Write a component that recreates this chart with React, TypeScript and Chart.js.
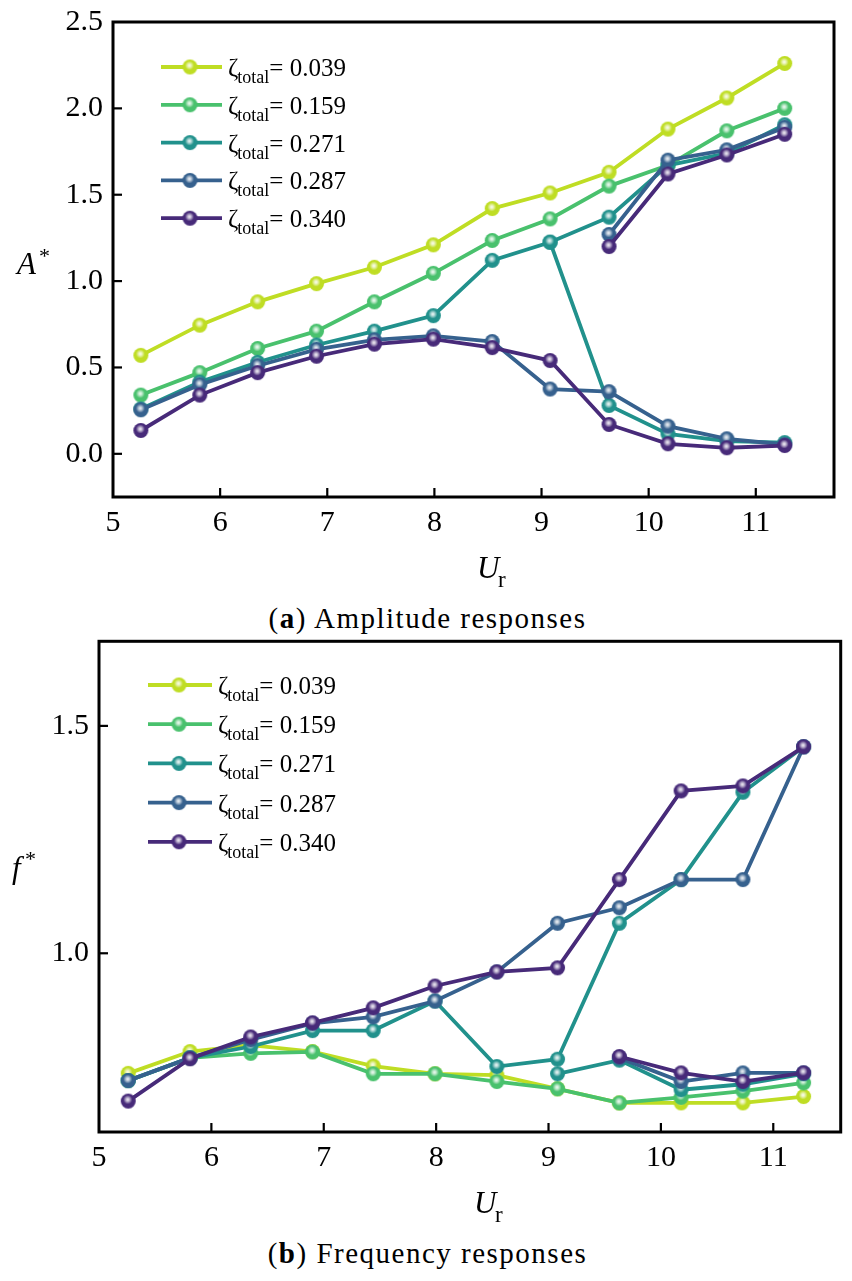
import { useEffect, useRef } from "react";
import { Chart, registerables } from "chart.js";

Chart.register(...registerables);

// reduced velocity (shared x values)
const ur = [5.26, 5.81, 6.35, 6.9, 7.44, 7.99, 8.54, 9.08, 9.63, 10.18, 10.73, 11.27];
const dampingLabels = ["0.039", "0.159", "0.271", "0.287", "0.340"];
const colors = ["#bfdd24", "#49c16d", "#21918c", "#36618e", "#472a79"];

// (a) amplitude responses A*
const amp039 = [0.57, 0.745, 0.88, 0.985, 1.08, 1.21, 1.42, 1.51, 1.63, 1.88, 2.06, 2.26];
const amp159 = [0.34, 0.47, 0.61, 0.71, 0.88, 1.045, 1.235, 1.36, 1.55, 1.67, 1.87, 2.0];
const amp271Up = [0.26, 0.415, 0.53, 0.63, 0.71, 0.8, 1.12, 1.225, 1.37, 1.67, 1.74, 1.905];
const amp271Down = [null, null, null, null, null, null, null, 1.225, 0.28, 0.115, 0.073, 0.065];
const amp287Down = [0.255, 0.4, 0.51, 0.605, 0.66, 0.683, 0.65, 0.375, 0.36, 0.16, 0.087, 0.054];
const amp287Up = [null, null, null, null, null, null, null, null, 1.27, 1.7, 1.76, 1.89];
const amp340Down = [0.135, 0.34, 0.47, 0.565, 0.635, 0.664, 0.615, 0.54, 0.17, 0.058, 0.035, 0.048];
const amp340Up = [null, null, null, null, null, null, null, null, 1.2, 1.62, 1.73, 1.85];

// (b) frequency responses f*
const freq039 = [0.736, 0.784, 0.798, 0.784, 0.752, 0.735, 0.732, 0.702, 0.671, 0.671, 0.671, 0.685];
const freq159 = [0.72, 0.77, 0.78, 0.783, 0.735, 0.735, 0.718, 0.702, 0.671, 0.683, 0.697, 0.715];
const freq271Up = [0.72, 0.77, 0.795, 0.83, 0.83, 0.895, 0.751, 0.767, 1.066, 1.162, 1.354, 1.454];
const freq271Down = [null, null, null, null, null, null, null, 0.735, 0.765, 0.7, 0.712, 0.735];
const freq287Up = [0.72, 0.77, 0.81, 0.846, 0.86, 0.895, 0.959, 1.066, 1.1, 1.162, 1.162, 1.454];
const freq287Down = [null, null, null, null, null, null, null, null, 0.77, 0.718, 0.737, 0.737];
const freq340Up = [0.675, 0.768, 0.816, 0.847, 0.88, 0.928, 0.959, 0.968, 1.162, 1.357, 1.368, 1.454];
const freq340Down = [null, null, null, null, null, null, null, null, 0.773, 0.737, 0.718, 0.737];

const ampSeries: [number, (number | null)[]][] = [
  [0, amp039], [1, amp159], [2, amp271Up], [2, amp271Down],
  [3, amp287Down], [3, amp287Up], [4, amp340Down], [4, amp340Up],
];
const freqSeries: [number, (number | null)[]][] = [
  [0, freq039], [1, freq159], [2, freq271Up], [2, freq271Down],
  [3, freq287Up], [3, freq287Down], [4, freq340Up], [4, freq340Down],
];

const SERIF = "'Liberation Serif', 'Times New Roman', serif";

function makeMarker(color: string, r = 7.5): HTMLCanvasElement {
  const size = Math.ceil(2 * r + 4);
  const c = document.createElement("canvas");
  c.width = size;
  c.height = size;
  const g = c.getContext("2d")!;
  const m = size / 2;
  g.beginPath();
  g.arc(m, m, r, 0, Math.PI * 2);
  g.fillStyle = color;
  g.fill();
  const grad = g.createRadialGradient(m - 0.5, m - 1.5, 0, m - 0.5, m - 1.5, r * 0.6);
  grad.addColorStop(0, "rgba(255,255,255,0.95)");
  grad.addColorStop(0.4, "rgba(255,255,255,0.65)");
  grad.addColorStop(1, "rgba(255,255,255,0)");
  g.fillStyle = grad;
  g.beginPath();
  g.arc(m, m, r, 0, Math.PI * 2);
  g.fill();
  return c;
}

interface Deco {
  yTitle: string;
  yX: number;
  yY: number;
  starX: number;
  starY: number;
  uX: number;
  uY: number;
  rX: number;
  rY: number;
  lx0: number;
  lx1: number;
  lxm: number;
  lxt: number;
  ly0: number;
  ldy: number;
}

function decoPlugin(d: Deco, markers: HTMLCanvasElement[]) {
  return {
    id: "deco",
    afterDraw(chart: Chart) {
      const { ctx, chartArea: a } = chart;
      const sx = chart.scales.x;
      const sy = chart.scales.y;
      ctx.save();
      ctx.strokeStyle = "#000";
      ctx.lineWidth = 2.2;
      // inward ticks
      sx.ticks.forEach((t) => {
        const px = sx.getPixelForValue(t.value);
        if (px - a.left < 3 || a.right - px < 3) return;
        ctx.beginPath();
        ctx.moveTo(px, a.bottom);
        ctx.lineTo(px, a.bottom - 9);
        ctx.stroke();
      });
      sy.ticks.forEach((t) => {
        const py = sy.getPixelForValue(t.value);
        if (py - a.top < 3 || a.bottom - py < 3) return;
        ctx.beginPath();
        ctx.moveTo(a.left, py);
        ctx.lineTo(a.left + 9, py);
        ctx.stroke();
      });
      ctx.lineWidth = 3;
      ctx.strokeRect(a.left, a.top, a.right - a.left, a.bottom - a.top);

      // legend
      dampingLabels.forEach((lab, i) => {
        const y = d.ly0 + i * d.ldy;
        ctx.strokeStyle = colors[i];
        ctx.lineWidth = 3.8;
        ctx.beginPath();
        ctx.moveTo(d.lx0, y);
        ctx.lineTo(d.lx1, y);
        ctx.stroke();
        const mk = markers[i];
        ctx.drawImage(mk, d.lxm - mk.width / 2, y - mk.height / 2);
        ctx.fillStyle = "#000";
        ctx.textBaseline = "alphabetic";
        ctx.textAlign = "left";
        ctx.font = `25px ${SERIF}`;
        ctx.fillText("ζ", d.lxt, y + 9);
        const w1 = ctx.measureText("ζ").width;
        ctx.font = `18px ${SERIF}`;
        ctx.fillText("total", d.lxt + w1 - 1, y + 16);
        const w2 = ctx.measureText("total").width;
        ctx.font = `25px ${SERIF}`;
        ctx.fillText("= " + lab, d.lxt + w1 + w2 - 1, y + 9);
      });

      // axis titles
      ctx.fillStyle = "#000";
      ctx.font = `italic 31px ${SERIF}`;
      ctx.fillText(d.yTitle, d.yX, d.yY);
      ctx.font = `22px ${SERIF}`;
      ctx.fillText("*", d.starX, d.starY);
      ctx.font = `italic 31px ${SERIF}`;
      ctx.fillText("U", d.uX, d.uY);
      ctx.font = `23px ${SERIF}`;
      ctx.fillText("r", d.rX, d.rY);
      ctx.restore();
    },
  };
}

interface PanelProps {
  series: [number, (number | null)[]][];
  xMax: number;
  yMin: number;
  yMax: number;
  yW: number;
  xH: number;
  padTop: number;
  padRight: number;
  deco: Deco;
}

function Panel({ series, xMax, yMin, yMax, yW, xH, padTop, padRight, deco }: PanelProps) {
  const ref = useRef<HTMLCanvasElement>(null);

  useEffect(() => {
    if (!ref.current) return;
    const markers = colors.map((c) => makeMarker(c));
    const chart = new Chart(ref.current, {
      type: "line",
      data: {
        datasets: series.map(([ci, vals]) => ({
          label: dampingLabels[ci],
          data: ur.map((x, i) => ({ x, y: vals[i] })),
          borderColor: colors[ci],
          backgroundColor: colors[ci],
          borderWidth: 3.8,
          pointStyle: markers[ci],
          pointRadius: 7.5,
          fill: false,
          tension: 0,
          spanGaps: false,
          order: 4 - ci,
        })),
      },
      options: {
        responsive: false,
        animation: false,
        layout: { padding: { top: padTop, right: padRight, left: 0, bottom: 0 } },
        plugins: {
          legend: { display: false },
          tooltip: { enabled: false },
        },
        scales: {
          x: {
            type: "linear",
            min: 5,
            max: xMax,
            grid: { display: false, drawTicks: false },
            border: { display: false },
            ticks: {
              stepSize: 1,
              includeBounds: false,
              color: "#000",
              padding: 8,
              font: { family: SERIF, size: 30 },
              maxRotation: 0,
            },
            afterFit: (s: any) => {
              s.height = xH;
              s.paddingLeft = 0;
              s.paddingRight = 0;
            },
          },
          y: {
            type: "linear",
            min: yMin,
            max: yMax,
            grid: { display: false, drawTicks: false },
            border: { display: false },
            ticks: {
              stepSize: 0.5,
              includeBounds: false,
              color: "#000",
              padding: 10,
              font: { family: SERIF, size: 30 },
              callback: (v: any) => Number(v).toFixed(1),
            },
            afterFit: (s: any) => {
              s.width = yW;
              s.paddingTop = 0;
              s.paddingBottom = 0;
            },
          },
        },
      },
      plugins: [decoPlugin(deco, markers)],
    } as any);
    return () => chart.destroy();
  }, []);

  return <canvas ref={ref} width={852} height={600} style={{ display: "block" }} />;
}

const captionStyle: React.CSSProperties = {
  position: "absolute",
  left: 0,
  width: 855,
  textAlign: "center",
  fontFamily: SERIF,
  fontSize: 29,
  lineHeight: "29px",
  letterSpacing: 1.5,
  color: "#000",
};

export default function App() {
  return (
    <div style={{ position: "absolute", left: 0, top: 0, width: 852, height: 1281, background: "#fff" }}>
      <div style={{ position: "absolute", left: 0, top: 0 }}>
        <Panel
          series={ampSeries}
          xMax={11.73}
          yMin={-0.25}
          yMax={2.5}
          yW={113}
          xH={103}
          padTop={22}
          padRight={18}
          deco={{
            yTitle: "A", yX: 17, yY: 274, starX: 39, starY: 263,
            uX: 477, uY: 578, rX: 498, rY: 587,
            lx0: 161, lx1: 222, lxm: 190, lxt: 228, ly0: 67, ldy: 37.8,
          }}
        />
      </div>
      <div style={{ ...captionStyle, top: 604 }}>
        (<b>a</b>) Amplitude responses
      </div>
      <div style={{ position: "absolute", left: 0, top: 630 }}>
        <Panel
          series={freqSeries}
          xMax={11.6}
          yMin={0.607}
          yMax={1.686}
          yW={99}
          xH={98}
          padTop={10}
          padRight={11}
          deco={{
            yTitle: "f", yX: 12, yY: 248, starX: 25, starY: 236,
            uX: 474, uY: 583, rX: 495, rY: 592,
            lx0: 148, lx1: 212, lxm: 179, lxt: 218, ly0: 55, ldy: 39.2,
          }}
        />
      </div>
      <div style={{ ...captionStyle, top: 1239 }}>
        (<b>b</b>) Frequency responses
      </div>
    </div>
  );
}
